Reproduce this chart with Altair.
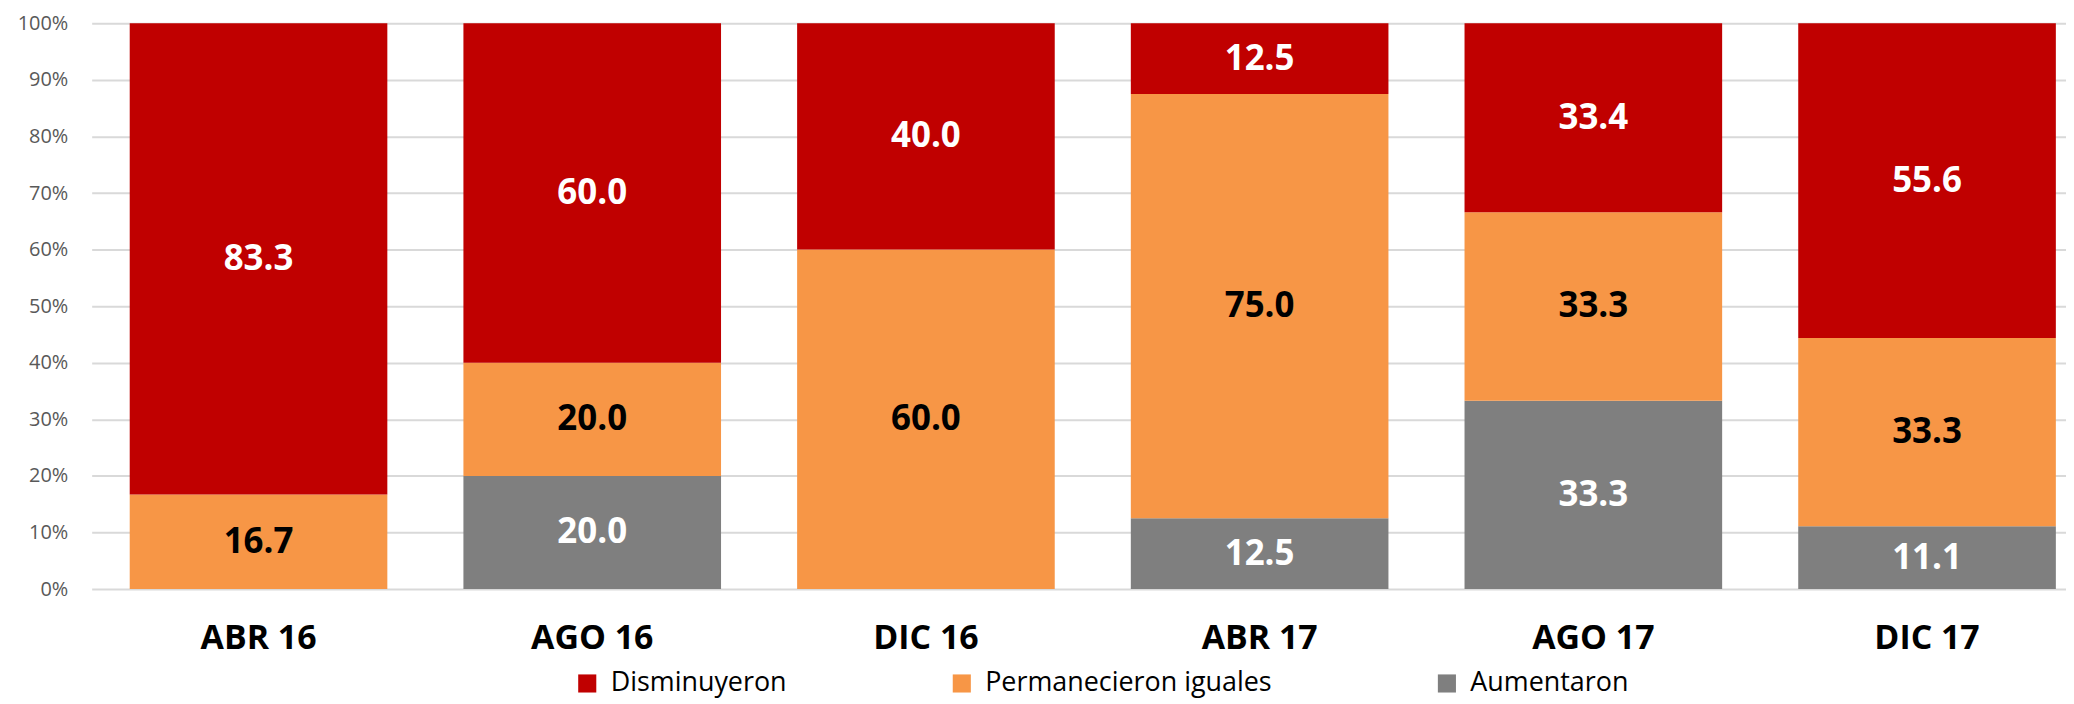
import altair as alt
import pandas as pd

periods = ["ABR 16", "AGO 16", "DIC 16", "ABR 17", "AGO 17", "DIC 17"]
series = ["Disminuyeron", "Permanecieron iguales", "Aumentaron"]
disminuyeron = [83.3, 60.0, 40.0, 12.5, 33.4, 55.6]
permanecieron = [16.7, 20.0, 60.0, 75.0, 33.3, 33.3]
aumentaron = [0.0, 20.0, 0.0, 12.5, 33.3, 11.1]
colors = ["#C00000", "#F79646", "#7F7F7F"]
y_ticks = [0, 10, 20, 30, 40, 50, 60, 70, 80, 90, 100]

rows = []
for i, p in enumerate(periods):
    for s, vals, order in [("Aumentaron", aumentaron, 0),
                           ("Permanecieron iguales", permanecieron, 1),
                           ("Disminuyeron", disminuyeron, 2)]:
        rows.append({"period": p, "series": s, "value": vals[i], "order": order})
df = pd.DataFrame(rows)

FONT = "Open Sans"

base = alt.Chart(df).transform_stack(
    stack="value", groupby=["period"], sort=[alt.SortField("order", order="ascending")], as_=["y0", "y1"]
).transform_calculate(mid="(datum.y0 + datum.y1) / 2")

x_enc = alt.X(
    "period:N",
    sort=periods,
    scale=alt.Scale(range=[0, 2010], paddingInner=0.228, paddingOuter=0.114),
    axis=alt.Axis(
        title=None, domain=False, ticks=False, labelAngle=0,
        labelFont=FONT, labelFontSize=34, labelFontWeight="bold", labelColor="#000000",
        labelPadding=33, labelBaseline="top",
    ),
)

bars = base.mark_bar().encode(
    x=x_enc,
    y=alt.Y(
        "y0:Q",
        scale=alt.Scale(domain=[0, 100], nice=False),
        axis=alt.Axis(
            title=None, values=y_ticks, labelExpr="datum.value + '%'",
            domain=False, ticks=False, grid=True, gridColor="#D9D9D9", gridWidth=2,
            labelFont=FONT, labelFontSize=20, labelColor="#595959", labelPadding=24,
        ),
    ),
    y2="y1:Q",
    color=alt.Color(
        "series:N",
        scale=alt.Scale(domain=series, range=colors),
        legend=alt.Legend(
            title=None, orient="none", direction="horizontal",
            legendX=484, legendY=649, padding=0,
            symbolType="square", symbolSize=330, symbolStrokeWidth=0,
            labelFont=FONT, labelFontSize=27, labelColor="#000000",
            labelOffset=10, columnPadding=162, labelLimit=0,
        ),
    ),
)

labels = base.transform_filter("datum.value > 0").mark_text(
    font=FONT, fontSize=35, fontWeight="bold", baseline="middle", align="center"
).encode(
    x=alt.X("period:N", sort=periods),
    y=alt.Y("mid:Q"),
    text=alt.Text("value:Q", format=".1f"),
    color=alt.condition(
        alt.datum.series == "Permanecieron iguales", alt.value("#000000"), alt.value("#FFFFFF")
    ),
)

chart = alt.layer(bars, labels).properties(
    width=1982, height=568,
    autosize=alt.AutoSizeParams(type="none"),
    padding={"left": 84, "top": 14, "right": 0, "bottom": 113},
).configure_view(stroke=None)

chart.save("out.html", embed_options={"renderer": "svg", "actions": False})
